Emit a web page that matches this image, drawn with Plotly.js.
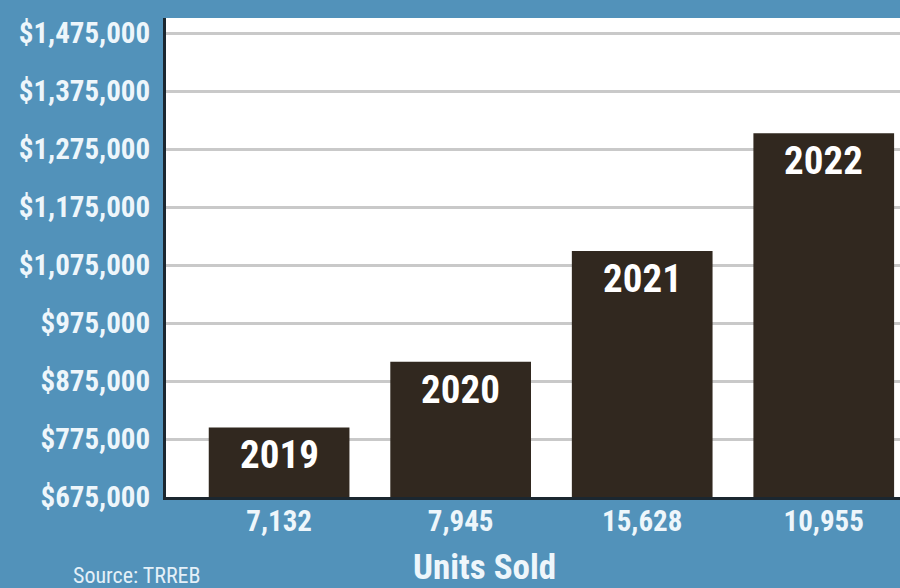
<!DOCTYPE html>
<html>
<head>
<meta charset="utf-8">
<script src="https://cdn.plot.ly/plotly-3.0.1.min.js"></script>
<style>html,body{margin:0;padding:0;background:#5292ba;}#chart{width:900px;height:588px;}</style>
</head>
<body>
<div id="chart"></div>
<script>
// Data
const unitsSold = ["7,132", "7,945", "15,628", "10,955"];
const years = ["2019", "2020", "2021", "2022"];
const avgPrice = [795000, 908000, 1099000, 1302000];
const yTickVals = [675000, 775000, 875000, 975000, 1075000, 1175000, 1275000, 1375000, 1475000];
const yTickText = ["$675,000", "$775,000", "$875,000", "$975,000", "$1,075,000", "$1,175,000", "$1,275,000", "$1,375,000", "$1,475,000"];

const FONT = "'Roboto Condensed', 'Liberation Sans Narrow', 'DejaVu Sans Condensed', sans-serif";
const BLUE = "#5292ba";
const BAR = "#31281f";

const trace = {
  type: "bar",
  x: unitsSold,
  y: avgPrice,
  marker: {color: BAR, line: {width: 0}},
  hoverinfo: "none"
};

const annotations = years.map((yr, i) => ({
  x: unitsSold[i], y: avgPrice[i], xref: "x", yref: "y",
  text: yr, showarrow: false, yanchor: "top", yshift: -3,
  font: {family: FONT, size: 39, color: "#ffffff", weight: "bold"}
}));
annotations.push({
  xref: "paper", yref: "paper", x: (484 - 166) / 734, y: 0, yshift: -(567 - 497),
  xanchor: "center", yanchor: "middle",
  text: "Units Sold", showarrow: false,
  font: {family: FONT, size: 35, color: "#eef6fb", weight: "bold"}
});
annotations.push({
  xref: "paper", yref: "paper", x: (137 - 166) / 734, y: -0.163, xanchor: "center", yanchor: "middle",
  text: "Source: TRREB", showarrow: false,
  font: {family: FONT, size: 22, color: "#e4f0f8"}
});

const layout = {
  width: 900, height: 588,
  margin: {l: 166, r: 0, t: 18, b: 91, pad: 0},
  paper_bgcolor: BLUE,
  plot_bgcolor: "#ffffff",
  showlegend: false,
  bargap: 0.225,
  xaxis: {
    type: "category",
    range: [-0.623, 3.42],
    showgrid: false,
    showline: true, linecolor: "#1b2730", linewidth: 3,
    ticks: "", ticklabelstandoff: -4,
    tickfont: {family: FONT, size: 29, color: "#eef6fb", weight: "bold"},
    fixedrange: true
  },
  yaxis: {
    range: [675000, 1500900],
    tickvals: yTickVals, ticktext: yTickText,
    showgrid: true, gridcolor: "#c9c9c9", gridwidth: 3,
    zeroline: false,
    showline: true, linecolor: "#1b2730", linewidth: 3,
    ticks: "outside", ticklen: 7, tickcolor: "rgba(0,0,0,0)",
    tickfont: {family: FONT, size: 29, color: "#eef6fb", weight: "bold"},
    fixedrange: true
  },
  annotations: annotations
};

Plotly.newPlot("chart", [trace], layout, {displayModeBar: false, staticPlot: true});
</script>
</body>
</html>
